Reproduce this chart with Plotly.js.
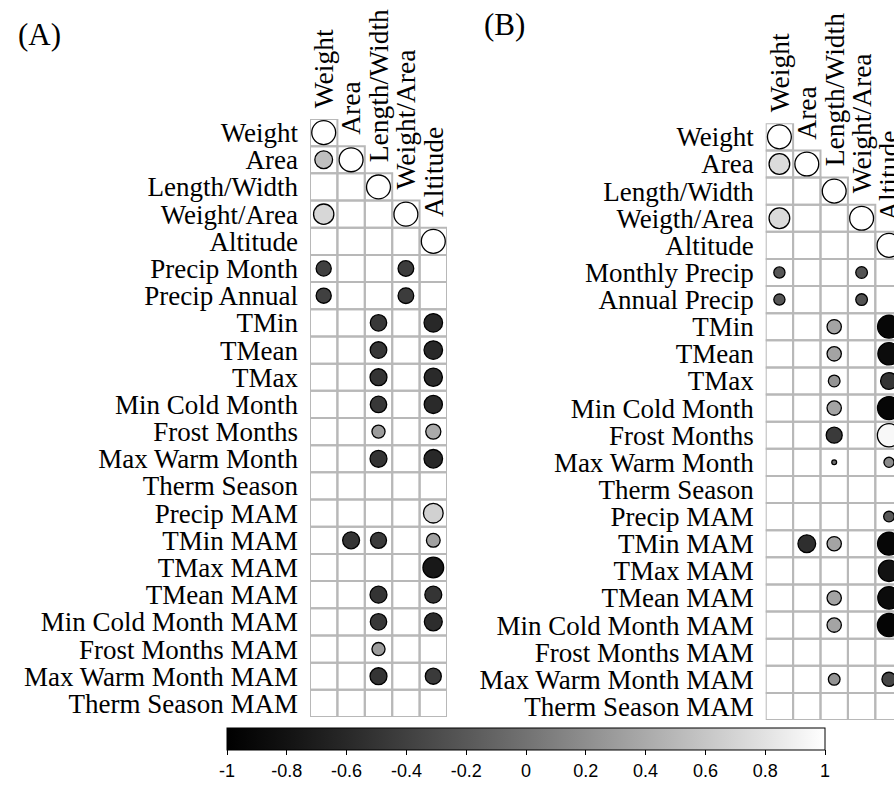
<!DOCTYPE html>
<html><head><meta charset="utf-8">
<script src="https://cdn.plot.ly/plotly-3.0.1.min.js"></script>
<style>html,body{margin:0;padding:0;background:#fff;}#chart{width:894px;height:790px;}</style>
</head><body><div id="chart"></div>
<script>
const N = null;
const colLabels = ['Weight', 'Area', 'Length/Width', 'Weight/Area', 'Altitude'];
const rowLabelsA = ['Weight', 'Area', 'Length/Width', 'Weight/Area', 'Altitude', 'Precip Month', 'Precip Annual',
  'TMin', 'TMean', 'TMax', 'Min Cold Month', 'Frost Months', 'Max Warm Month', 'Therm Season', 'Precip MAM',
  'TMin MAM', 'TMax MAM', 'TMean MAM', 'Min Cold Month MAM', 'Frost Months MAM', 'Max Warm Month MAM', 'Therm Season MAM'];
const rowLabelsB = ['Weight', 'Area', 'Length/Width', 'Weigth/Area', 'Altitude', 'Monthly Precip', 'Annual Precip',
  'TMin', 'TMean', 'TMax', 'Min Cold Month', 'Frost Months', 'Max Warm Month', 'Therm Season', 'Precip MAM',
  'TMin MAM', 'TMax MAM', 'TMean MAM', 'Min Cold Month MAM', 'Frost Months MAM', 'Max Warm Month MAM', 'Therm Season MAM'];

// Panel A correlations (one array per column, rows in rowLabelsA order; null = blank cell)
const aWeight = [1, 0.55, N, 0.72, N, -0.4, -0.4, N, N, N, N, N, N, N, N, N, N, N, N, N, N, N];
const aArea   = [N, 1, N, N, N, N, N, N, N, N, N, N, N, N, N, -0.5, N, N, N, N, N, N];
const aLW     = [N, N, 1, N, N, N, N, -0.47, -0.48, -0.5, -0.47, 0.3, -0.5, N, N, -0.45, N, -0.5, -0.47, 0.3, -0.5, N];
const aWA     = [N, N, N, 1, N, -0.43, -0.43, N, N, N, N, N, N, N, N, N, N, N, N, N, N, N];
const aAlt    = [N, N, N, N, 1, N, N, -0.6, -0.6, -0.58, -0.58, 0.4, -0.6, N, 0.68, 0.33, -0.75, -0.5, -0.56, N, -0.45, N];

// Panel B correlations
const bWeight = [1, 0.75, N, 0.75, N, -0.22, -0.22, N, N, N, N, N, N, N, N, N, N, N, N, N, N, N];
const bArea   = [N, 1, N, N, N, N, N, N, N, N, N, N, N, N, N, -0.55, N, N, N, N, N, N];
const bLW     = [N, N, 1, N, N, N, N, 0.36, 0.36, 0.24, 0.36, -0.45, -0.04, N, N, 0.36, N, 0.36, 0.36, N, 0.24, N];
const bWA     = [N, N, N, 1, N, -0.24, -0.24, N, N, N, N, N, N, N, N, N, N, N, N, N, N, N];
const bAlt    = [N, N, N, N, 1, N, N, -0.92, -0.87, -0.5, -0.93, 0.95, 0.18, N, -0.2, -0.92, -0.8, -0.88, -0.95, N, -0.35, N];

const cbTicks = [-1, -0.8, -0.6, -0.4, -0.2, 0, 0.2, 0.4, 0.6, 0.8, 1];
const cbTickText = ['-1', '-0.8', '-0.6', '-0.4', '-0.2', '0', '0.2', '0.4', '0.6', '0.8', '1'];

// ---- geometry / style ----
const W = 894, H = 790;
const PA = {left: 310, right: 447, top: 119, bottom: 717};
const PB = {left: 765.7, right: 902.7, top: 123.3, bottom: 720};
const SERIF = 'Liberation Serif, Times New Roman, serif';
const GRID = '#b8b8b8';
const scale = [[0, '#000000'], [0.1, '#121212'], [0.2, '#282828'], [0.3, '#404040'], [0.4, '#585858'],
  [0.5, '#727272'], [0.6, '#8e8e8e'], [0.7, '#aaaaaa'], [0.8, '#c6c6c6'], [0.9, '#e2e2e2'], [1, '#ffffff']];

function buildPanel(cols, rows, P, xa, ya, showscale) {
  const cellH = (P.bottom - P.top) / rows.length;
  const cellW = (P.right - P.left) / cols.length;
  const cell = Math.min(cellH, cellW);
  const xs = [], ys = [], vs = [], ss = [];
  cols.forEach((arr, j) => arr.forEach((v, i) => {
    if (v !== null) { xs.push(j + 1); ys.push(i + 1); vs.push(v); ss.push(0.88 * cell * Math.sqrt(Math.abs(v))); }
  }));
  const trace = {
    type: 'scatter', mode: 'markers', x: xs, y: ys, xaxis: xa, yaxis: ya,
    hoverinfo: 'skip', showlegend: false, cliponaxis: true,
    marker: {
      symbol: 'circle', size: ss, color: vs, colorscale: scale, cmin: -1, cmax: 1, opacity: 1,
      line: {color: '#000', width: 1.3}, showscale: showscale,
      colorbar: showscale ? {
        orientation: 'h', thicknessmode: 'pixels', thickness: 22, lenmode: 'pixels', len: 598,
        x: 526 / W, xanchor: 'center', y: 1 - 728 / H, yanchor: 'top', xpad: 0, ypad: 0,
        outlinewidth: 1, outlinecolor: '#000', tickvals: cbTicks, ticktext: cbTickText,
        ticks: 'outside', ticklen: 5, tickwidth: 1, tickcolor: '#000',
        tickfont: {family: 'Liberation Sans, Arial, sans-serif', size: 18, color: '#000'}
      } : undefined
    }
  };
  const shapes = [];
  for (let i = 1; i <= rows.length; i++) {
    for (let j = 1; j <= cols.length; j++) {
      if (i >= j) shapes.push({type: 'rect', xref: xa, yref: ya, x0: j - 0.5, x1: j + 0.5, y0: i - 0.5, y1: i + 0.5,
        line: {color: GRID, width: 2}, fillcolor: 'rgba(0,0,0,0)', layer: 'below'});
    }
  }
  const anns = colLabels.map((t, k) => ({
    text: t, xref: xa, yref: ya, x: k + 1, y: k + 0.5, xanchor: 'center', yanchor: 'bottom',
    textangle: -90, yshift: 9, showarrow: false, font: {family: SERIF, size: 27.5, color: '#000'}
  }));
  const xr = [0.5, 0.5 + (Math.min(P.right, W) - P.left) / cellW];
  const xaxis = {domain: [P.left / W, Math.min(1, P.right / W)], range: xr, showgrid: false, zeroline: false,
    showticklabels: false, showline: false, fixedrange: true};
  const yaxis = {domain: [1 - P.bottom / H, 1 - P.top / H], range: [rows.length + 0.5, 0.5], showgrid: false,
    zeroline: false, showline: false, ticks: '', tickvals: rows.map((r, i) => i + 1), ticktext: rows,
    tickfont: {family: SERIF, size: 27, color: '#000'}, ticklabelstandoff: 11, fixedrange: true};
  return {trace, shapes, anns, xaxis, yaxis};
}

const pA = buildPanel([aWeight, aArea, aLW, aWA, aAlt], rowLabelsA, PA, 'x', 'y', true);
const pB = buildPanel([bWeight, bArea, bLW, bWA, bAlt], rowLabelsB, PB, 'x2', 'y2', false);

const titles = [
  {text: '(A)', xref: 'paper', yref: 'paper', x: 16 / W, y: 1 - 34 / H, xanchor: 'left', yanchor: 'middle',
    showarrow: false, font: {family: SERIF, size: 31, color: '#000'}},
  {text: '(B)', xref: 'paper', yref: 'paper', x: 482 / W, y: 1 - 25 / H, xanchor: 'left', yanchor: 'middle',
    showarrow: false, font: {family: SERIF, size: 31, color: '#000'}}
];

const layout = {
  width: W, height: H, margin: {l: 0, r: 0, t: 0, b: 0}, paper_bgcolor: '#fff', plot_bgcolor: 'rgba(0,0,0,0)',
  showlegend: false,
  xaxis: pA.xaxis, yaxis: pA.yaxis, xaxis2: Object.assign({anchor: 'y2'}, pB.xaxis),
  yaxis2: Object.assign({anchor: 'x2'}, pB.yaxis),
  shapes: pA.shapes.concat(pB.shapes),
  annotations: titles.concat(pA.anns, pB.anns)
};
layout.xaxis.anchor = 'y'; layout.yaxis.anchor = 'x';

Plotly.newPlot('chart', [pA.trace, pB.trace], layout, {displayModeBar: false, staticPlot: true});
</script></body></html>
